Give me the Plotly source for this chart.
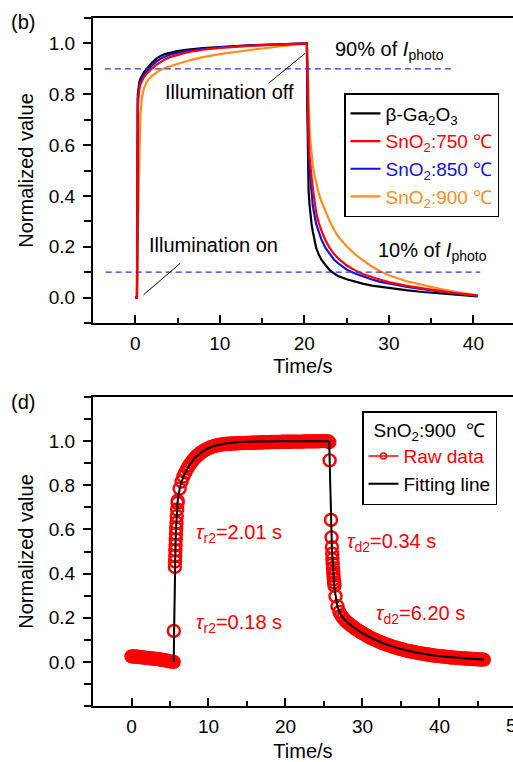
import numpy as np
import plotly.graph_objects as go

# ---------------- panel (b): normalized photoresponse of four devices ----------------
t_b = [0, 0.15, 0.2, 0.3, 0.4, 0.5, 0.6, 0.8, 1.0, 1.3, 1.6, 2.0, 2.5, 3.0, 3.5, 4, 5, 6, 7, 8,
       10, 12, 14, 16, 18, 20, 20.3,
       20.35, 20.4, 20.5, 20.6, 20.7, 20.85, 21.0, 21.2, 21.4, 21.7, 22.0, 22.5, 23, 23.5, 24,
       25, 26, 27, 28, 29, 30, 32, 34, 36, 38, 40.5]

ga2o3 = [0, 0, 0, 0.80, 0.835, 0.85, 0.86, 0.873, 0.885, 0.898, 0.91, 0.925, 0.94, 0.951, 0.958,
         0.963, 0.970, 0.975, 0.979, 0.982, 0.986, 0.990, 0.993, 0.995, 0.997, 0.999, 1.0,
         0.75, 0.50, 0.42, 0.37, 0.332, 0.29, 0.26, 0.225, 0.195, 0.17, 0.15, 0.128, 0.108, 0.095,
         0.085, 0.072, 0.062, 0.054, 0.047, 0.042, 0.037, 0.029, 0.022, 0.016, 0.011, 0.005]

sno2_850 = [0, 0, 0, 0.78, 0.82, 0.84, 0.852, 0.866, 0.877, 0.889, 0.90, 0.914, 0.928, 0.940, 0.948,
            0.955, 0.964, 0.970, 0.975, 0.979, 0.985, 0.989, 0.992, 0.995, 0.997, 0.999, 1.0,
            0.85, 0.70, 0.58, 0.51, 0.465, 0.41, 0.36, 0.325, 0.29, 0.26, 0.23, 0.195, 0.17, 0.15,
            0.135, 0.11, 0.095, 0.082, 0.071, 0.062, 0.055, 0.043, 0.033, 0.024, 0.016, 0.007]

sno2_750 = [0, 0, 0, 0.76, 0.80, 0.825, 0.838, 0.855, 0.866, 0.879, 0.89, 0.902, 0.916, 0.928, 0.937,
            0.945, 0.956, 0.964, 0.970, 0.975, 0.982, 0.987, 0.991, 0.994, 0.997, 0.999, 1.0,
            0.90, 0.78, 0.64, 0.56, 0.51, 0.475, 0.43, 0.375, 0.335, 0.295, 0.265, 0.225, 0.195, 0.172,
            0.154, 0.127, 0.107, 0.092, 0.08, 0.07, 0.061, 0.047, 0.036, 0.026, 0.017, 0.008]

sno2_900 = [0, 0, 0, 0.25, 0.45, 0.62, 0.72, 0.79, 0.82, 0.845, 0.86, 0.873, 0.886, 0.896, 0.903,
            0.909, 0.92, 0.93, 0.938, 0.946, 0.958, 0.968, 0.976, 0.984, 0.991, 0.997, 1.0,
            0.95, 0.88, 0.76, 0.68, 0.62, 0.56, 0.52, 0.48, 0.45, 0.41, 0.38, 0.34, 0.30, 0.268,
            0.24, 0.202, 0.17, 0.145, 0.122, 0.103, 0.088, 0.065, 0.048, 0.034, 0.022, 0.01]

# ---------------- panel (d): SnO2:900 ℃ raw data and bi-exponential fit ----------------
# dark current before switching on (sampled every 0.25 s)
raw_dark_t = list(np.round(np.arange(0.0, 5.26, 0.25), 2)) + [5.48]
raw_dark_v = [0.025, 0.024, 0.024, 0.023, 0.022, 0.021, 0.020, 0.019, 0.018, 0.017, 0.016, 0.015,
              0.014, 0.013, 0.012, 0.011, 0.009, 0.008, 0.006, 0.004, 0.002, 0.001, 0.0]
# fast rise after switching on
raw_rise_t = [5.50, 5.64, 5.66, 5.68, 5.70, 5.73, 5.75, 5.78, 5.81, 5.84, 5.88, 5.93, 5.98]
raw_rise_v = [0.14, 0.43, 0.455, 0.48, 0.505, 0.53, 0.555, 0.58, 0.605, 0.63, 0.66, 0.69, 0.72]
# slow rise and saturation (every 0.25 s)
raw_sat_t = list(np.round(np.arange(6.0, 25.51, 0.25), 2))
raw_sat_v = [0.73, 0.785, 0.817, 0.84, 0.859, 0.876, 0.89, 0.903, 0.914, 0.924, 0.933, 0.941,
             0.948, 0.954, 0.959, 0.964, 0.968, 0.972, 0.975, 0.978, 0.98, 0.982, 0.984, 0.985,
             0.986, 0.987, 0.988, 0.988, 0.989, 0.989, 0.990, 0.990, 0.991, 0.991, 0.991, 0.992,
             0.992, 0.992, 0.993, 0.993, 0.993, 0.994, 0.994, 0.994, 0.994, 0.995, 0.995, 0.995,
             0.995, 0.996, 0.996, 0.996, 0.996, 0.996, 0.997, 0.997, 0.997, 0.997, 0.997, 0.998,
             0.998, 0.998, 0.998, 0.998, 0.998, 0.998, 0.999, 0.999, 0.999, 0.999, 0.999, 0.999,
             0.999, 0.999, 1.0, 1.0, 1.0, 1.0, 1.0]
# fast decay after switching off
raw_fall_t = [25.69, 25.73, 25.91, 25.98, 26.03, 26.07, 26.10, 26.13, 26.17, 26.21, 26.24,
              26.28, 26.32, 26.36]
raw_fall_v = [0.995, 0.913, 0.643, 0.564, 0.52, 0.49, 0.465, 0.445, 0.425, 0.405, 0.39,
              0.375, 0.36, 0.345]
# slow decay (every 0.25 s)
raw_tail_t = list(np.round(np.arange(26.5, 45.76, 0.25), 2))
raw_tail_v = [0.297, 0.252, 0.226, 0.210, 0.198, 0.188, 0.180, 0.172, 0.165, 0.159, 0.152,
              0.146, 0.141, 0.135, 0.130, 0.125, 0.120, 0.115, 0.110, 0.106, 0.102, 0.098,
              0.094, 0.090, 0.087, 0.083, 0.080, 0.077, 0.074, 0.071, 0.068, 0.065, 0.063,
              0.060, 0.058, 0.056, 0.053, 0.051, 0.049, 0.047, 0.046, 0.044, 0.042, 0.040,
              0.039, 0.037, 0.036, 0.034, 0.033, 0.032, 0.030, 0.029, 0.028, 0.027, 0.026,
              0.025, 0.024, 0.023, 0.022, 0.021, 0.020, 0.020, 0.019, 0.018, 0.017, 0.017,
              0.016, 0.015, 0.015, 0.014, 0.014, 0.013, 0.013, 0.012, 0.012, 0.011, 0.011, 0.010]

raw_t = raw_dark_t + raw_rise_t + raw_sat_t + raw_fall_t + raw_tail_t
raw_v = raw_dark_v + raw_rise_v + raw_sat_v + raw_fall_v + raw_tail_v

# fitted time constants (s) and amplitudes of the bi-exponential fit
t_on, t_off, t_end = 5.48, 25.69, 45.75
tau_rise = [0.18, 2.01]
amp_rise = [0.70, 0.30]
tau_decay = [0.34, 6.20]
amp_decay = [0.74, 0.26]

fit_t_rise = np.linspace(t_on, t_off, 600)
fit_v_rise = 1 - sum(a * np.exp(-(fit_t_rise - t_on) / tau) for a, tau in zip(amp_rise, tau_rise))
fit_t_decay = np.linspace(t_off, t_end, 600)
fit_v_decay = sum(a * np.exp(-(fit_t_decay - t_off) / tau) for a, tau in zip(amp_decay, tau_decay))
fit_t = np.concatenate([fit_t_rise, fit_t_decay])
fit_v = np.concatenate([fit_v_rise, fit_v_decay])

# ---------------- styling ----------------
FONT = "Liberation Sans, Arial, sans-serif"
RED, BLUE, ORANGE, BLACK = "#ff0000", "#1212e0", "#ff8c1a", "#000000"
DASH_BLUE = "#2f2fd6"
W, H = 513, 762
FS = 20        # annotation / title size
FS_TICK = 19   # tick label size
FS_LEG = 19    # legend size


def px_x(p):
    return p / W


def px_y(p):
    return 1 - p / H


fig = go.Figure()

series_b = [
    ("β-Ga<sub>2</sub>O<sub>3</sub>", ga2o3, BLACK, 1),
    ("SnO<sub>2</sub>:750 ℃", sno2_750, RED, 2),
    ("SnO<sub>2</sub>:850 ℃", sno2_850, BLUE, 3),
    ("SnO<sub>2</sub>:900 ℃", sno2_900, ORANGE, 4),
]
# draw order: orange underneath, red on top
for idx in [3, 0, 2, 1]:
    name, vals, col, rank = series_b[idx]
    fig.add_trace(go.Scatter(
        x=t_b, y=vals, mode="lines", xaxis="x", yaxis="y",
        line=dict(color=col, width=2.2),
        name=f"<span style='color:{col}'>{name}</span>",
        legend="legend", legendrank=rank,
    ))

# reference levels: 90 % and 10 % of the photocurrent
for level, x0, x1 in [(0.9, -3.6, 37.4), (0.1, -3.5, 40.8)]:
    fig.add_trace(go.Scatter(
        x=[x0, x1], y=[level, level], mode="lines", xaxis="x", yaxis="y",
        line=dict(color=DASH_BLUE, width=1.2, dash="6px,4px"),
        showlegend=False, hoverinfo="skip",
    ))

# panel (d)
fig.add_trace(go.Scatter(
    x=raw_t, y=raw_v, mode="lines+markers", xaxis="x2", yaxis="y2",
    line=dict(color=RED, width=1),
    marker=dict(symbol="circle-open", size=12, color=RED, line=dict(width=2.4, color=RED)),
    showlegend=False,
))
fig.add_trace(go.Scatter(
    x=[None], y=[None], mode="lines+markers", xaxis="x2", yaxis="y2",
    line=dict(color=RED, width=1.5),
    marker=dict(symbol="circle-open", size=6, color=RED, line=dict(width=1.5, color=RED)),
    name=f"<span style='color:{RED}'>Raw data</span>", legend="legend2",
))
fig.add_trace(go.Scatter(
    x=fit_t, y=fit_v, mode="lines", xaxis="x2", yaxis="y2",
    line=dict(color=BLACK, width=2),
    name="Fitting line", legend="legend2",
))

axis_common = dict(
    showline=True, linewidth=2, linecolor=BLACK, showgrid=False, zeroline=False,
    tickfont=dict(family=FONT, size=FS_TICK, color=BLACK), tickcolor=BLACK, tickwidth=2,
    title_font=dict(family=FONT, size=FS, color=BLACK),
)
ylabels = [0.0, 0.2, 0.4, 0.6, 0.8, 1.0]

fig.update_layout(
    width=W, height=H, margin=dict(l=0, r=0, t=0, b=0),
    paper_bgcolor="white", plot_bgcolor="white",
    font=dict(family=FONT, size=FS, color=BLACK),
    xaxis=dict(axis_common, domain=[px_x(93), 1], anchor="y", range=[-5, 44.68],
               mirror=True, ticks="inside", ticklen=8, dtick=10, tick0=0,
               minor=dict(ticks="inside", ticklen=5, dtick=5, tick0=0, tickwidth=2, tickcolor=BLACK),
               ticklabelstandoff=2, title=dict(text="Time/s", standoff=6)),
    yaxis=dict(axis_common, domain=[px_y(323), px_y(18)], anchor="x", range=[-0.1, 1.1],
               ticks="outside", ticklen=8, tickvals=ylabels, ticktext=[f"{v:.1f}" for v in ylabels],
               minor=dict(ticks="outside", ticklen=7, dtick=0.1, tick0=0, tickwidth=2, tickcolor=BLACK),
               ticklabelstandoff=4, title=dict(text="Normalized value", standoff=10)),
    xaxis2=dict(axis_common, domain=[px_x(93), 1], anchor="y2", range=[-5, 49.55],
                mirror=True, ticks="inside", ticklen=8, dtick=10, tick0=0,
                minor=dict(ticks="inside", ticklen=5, dtick=5, tick0=0, tickwidth=2, tickcolor=BLACK),
                ticklabelstandoff=2, title=dict(text="Time/s", standoff=11)),
    yaxis2=dict(axis_common, domain=[px_y(706), px_y(397)], anchor="x2", range=[-0.2, 1.2],
                ticks="outside", ticklen=8, tickvals=ylabels, ticktext=[f"{v:.1f}" for v in ylabels],
                minor=dict(ticks="outside", ticklen=7, dtick=0.1, tick0=0, tickwidth=2, tickcolor=BLACK),
                ticklabelstandoff=4, title=dict(text="Normalized value", standoff=10)),
    legend=dict(x=px_x(344), y=px_y(93), xanchor="left", yanchor="top",
                bgcolor="white", bordercolor=BLACK, borderwidth=1.5,
                font=dict(family=FONT, size=FS_LEG), itemwidth=30, traceorder="normal"),
    legend2=dict(x=px_x(362), y=px_y(411), xanchor="left", yanchor="top",
                 bgcolor="white", bordercolor=BLACK, borderwidth=1.5,
                 font=dict(family=FONT, size=FS_LEG), itemwidth=30,
                 title=dict(text="SnO<sub>2</sub>:900  ℃", side="top center",
                            font=dict(family=FONT, size=FS_LEG))),
    showlegend=True,
)

# annotations
notes_b = [
    ("90% of <i>I</i><sub>photo</sub>", 23.44, 0.974, BLACK),
    ("10% of <i>I</i><sub>photo</sub>", 28.49, 0.181, BLACK),
    ("Illumination off", 3.23, 0.809, BLACK),
    ("Illumination on", 1.38, 0.207, BLACK),
]
for text, x, y, col in notes_b:
    fig.add_annotation(text=text, x=x, y=y, xref="x", yref="y", xanchor="left", yanchor="middle",
                       showarrow=False, font=dict(family=FONT, size=FS, color=col))

notes_d = [
    ("<i>τ</i><sub>r2</sub>=2.01 s", 8.11, 0.58),
    ("<i>τ</i><sub>r2</sub>=0.18 s", 8.11, 0.172),
    ("<i>τ</i><sub>d2</sub>=0.34 s", 27.78, 0.54),
    ("<i>τ</i><sub>d2</sub>=6.20 s", 31.45, 0.216),
]
for text, x, y in notes_d:
    fig.add_annotation(text=text, x=x, y=y, xref="x2", yref="y2", xanchor="left", yanchor="middle",
                       showarrow=False, font=dict(family=FONT, size=FS, color=RED))

# pointer lines from the labels to the switching instants
fig.add_shape(type="line", xref="x", yref="y", x0=15.76, y0=0.843, x1=20.09, y1=0.961,
              line=dict(color=BLACK, width=1))
fig.add_shape(type="line", xref="x", yref="y", x0=0.98, y0=0.011, x1=5.32, y1=0.135,
              line=dict(color=BLACK, width=1))

# panel letters
fig.add_annotation(text="(b)", x=px_x(9), y=px_y(22), xref="paper", yref="paper",
                   xanchor="left", yanchor="middle", showarrow=False, font=dict(family=FONT, size=FS))
fig.add_annotation(text="(d)", x=px_x(9), y=px_y(402), xref="paper", yref="paper",
                   xanchor="left", yanchor="middle", showarrow=False, font=dict(family=FONT, size=FS))
# tick label at the clipped right end of panel (d)
fig.add_annotation(text="50", x=px_x(516.5), y=px_y(725), xref="paper", yref="paper",
                   xanchor="center", yanchor="middle", showarrow=False, font=dict(family=FONT, size=FS_TICK))

fig.write_html("out.html")
